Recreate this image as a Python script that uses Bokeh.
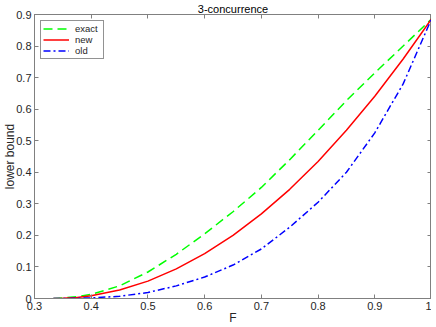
from bokeh.plotting import figure
from bokeh.models import Range1d, LinearAxis, FixedTicker
from bokeh.embed import file_html
from bokeh.resources import INLINE

# ---- data ----
F = [1/3, 0.35, 0.375, 0.40, 0.45, 0.50, 0.55, 0.60, 0.65, 0.70, 0.75, 0.80, 0.85, 0.90, 0.95, 1.00]
exact = [0.0, 0.002, 0.006, 0.013, 0.040, 0.084, 0.140, 0.205, 0.275, 0.352, 0.440, 0.533, 0.627, 0.715, 0.800, 0.886]
new = [0.0, 0.0006, 0.0035, 0.009, 0.027, 0.055, 0.094, 0.142, 0.200, 0.268, 0.346, 0.434, 0.533, 0.641, 0.759, 0.886]
old = [0.0, 0.0001, 0.0008, 0.002, 0.007, 0.019, 0.040, 0.068, 0.106, 0.157, 0.226, 0.305, 0.400, 0.525, 0.680, 0.886]

x_ticks = [0.3, 0.4, 0.5, 0.6, 0.7, 0.8, 0.9, 1.0]
x_tick_labels = ["0.3", "0.4", "0.5", "0.6", "0.7", "0.8", "0.9", "1"]
y_ticks = [0.0, 0.1, 0.2, 0.3, 0.4, 0.5, 0.6, 0.7, 0.8, 0.9]
y_tick_labels = ["0", "0.1", "0.2", "0.3", "0.4", "0.5", "0.6", "0.7", "0.8", "0.9"]

title_text = "3-concurrence"
x_label = "F"
y_label = "lower bound"

FONT = "Liberation Sans"
AXC = "#262626"

p = figure(width=431, height=327, x_range=Range1d(0.3, 1.0), y_range=Range1d(0, 0.9),
           output_backend="svg", toolbar_location=None, title=title_text,
           min_border_left=0, min_border_right=0, min_border_top=0, min_border_bottom=0)
p.grid.visible = False
p.outline_line_color = "#808080"
p.outline_line_width = 1
p.background_fill_color = "white"
p.border_fill_color = "white"

p.title.text_font = FONT
p.title.text_font_size = "11px"
p.title.text_font_style = "normal"
p.title.text_color = "black"
p.title.align = "center"
p.title.standoff = 0
p.title.offset = 0

top_axis = LinearAxis()
right_axis = LinearAxis()
p.add_layout(top_axis, "above")
p.add_layout(right_axis, "right")
bottom_axis = p.below[0]
left_axis = p.left[0]

for ax in [bottom_axis, top_axis]:
    ax.ticker = FixedTicker(ticks=x_ticks)
    ax.major_label_overrides = dict(zip(x_ticks, x_tick_labels))
for ax in [left_axis, right_axis]:
    ax.ticker = FixedTicker(ticks=y_ticks)
    ax.major_label_overrides = dict(zip(y_ticks, y_tick_labels))

for ax in [bottom_axis, top_axis, left_axis, right_axis]:
    ax.axis_line_color = "#808080"
    ax.major_tick_line_color = "#808080"
    ax.major_tick_in = 4
    ax.major_tick_out = 0
    ax.minor_tick_in = 0
    ax.minor_tick_out = 0
    ax.minor_tick_line_color = None
    ax.major_label_text_font = FONT
    ax.major_label_text_font_size = "11px"
    ax.major_label_text_color = AXC
    ax.major_label_standoff = 3

top_axis.major_label_overrides = {t: "" for t in x_ticks}
right_axis.major_label_overrides = {t: "" for t in y_ticks}
for ax in [top_axis, right_axis]:
    ax.major_label_text_font_size = "0px"
    ax.major_label_standoff = 0

bottom_axis.axis_label = x_label
left_axis.axis_label = y_label
for ax in [bottom_axis, left_axis]:
    ax.axis_label_text_font = FONT
    ax.axis_label_text_font_size = "12px"
    ax.axis_label_text_font_style = "normal"
    ax.axis_label_text_color = AXC
bottom_axis.axis_label_standoff = -2
left_axis.axis_label_standoff = -4

p.line(F, exact, line_color="#00FF00", line_width=1.5, line_dash="9 5", legend_label="exact")
p.line(F, new, line_color="#FF0000", line_width=1.5, legend_label="new")
p.line(F, old, line_color="#0000FF", line_width=1.5, line_dash="7 3 2 3", legend_label="old")

lg = p.legend[0]
lg.location = "top_left"
lg.margin = 6
lg.padding = 2
lg.spacing = 0
lg.glyph_width = 26
lg.glyph_height = 9
lg.label_height = 9
lg.label_width = 26
lg.label_standoff = 6
lg.label_text_font = FONT
lg.label_text_font_size = "9.5px"
lg.label_text_color = AXC
lg.border_line_color = AXC
lg.border_line_width = 1
lg.background_fill_color = "white"
lg.background_fill_alpha = 1.0

open("out.html", "w").write(file_html(p, INLINE))
